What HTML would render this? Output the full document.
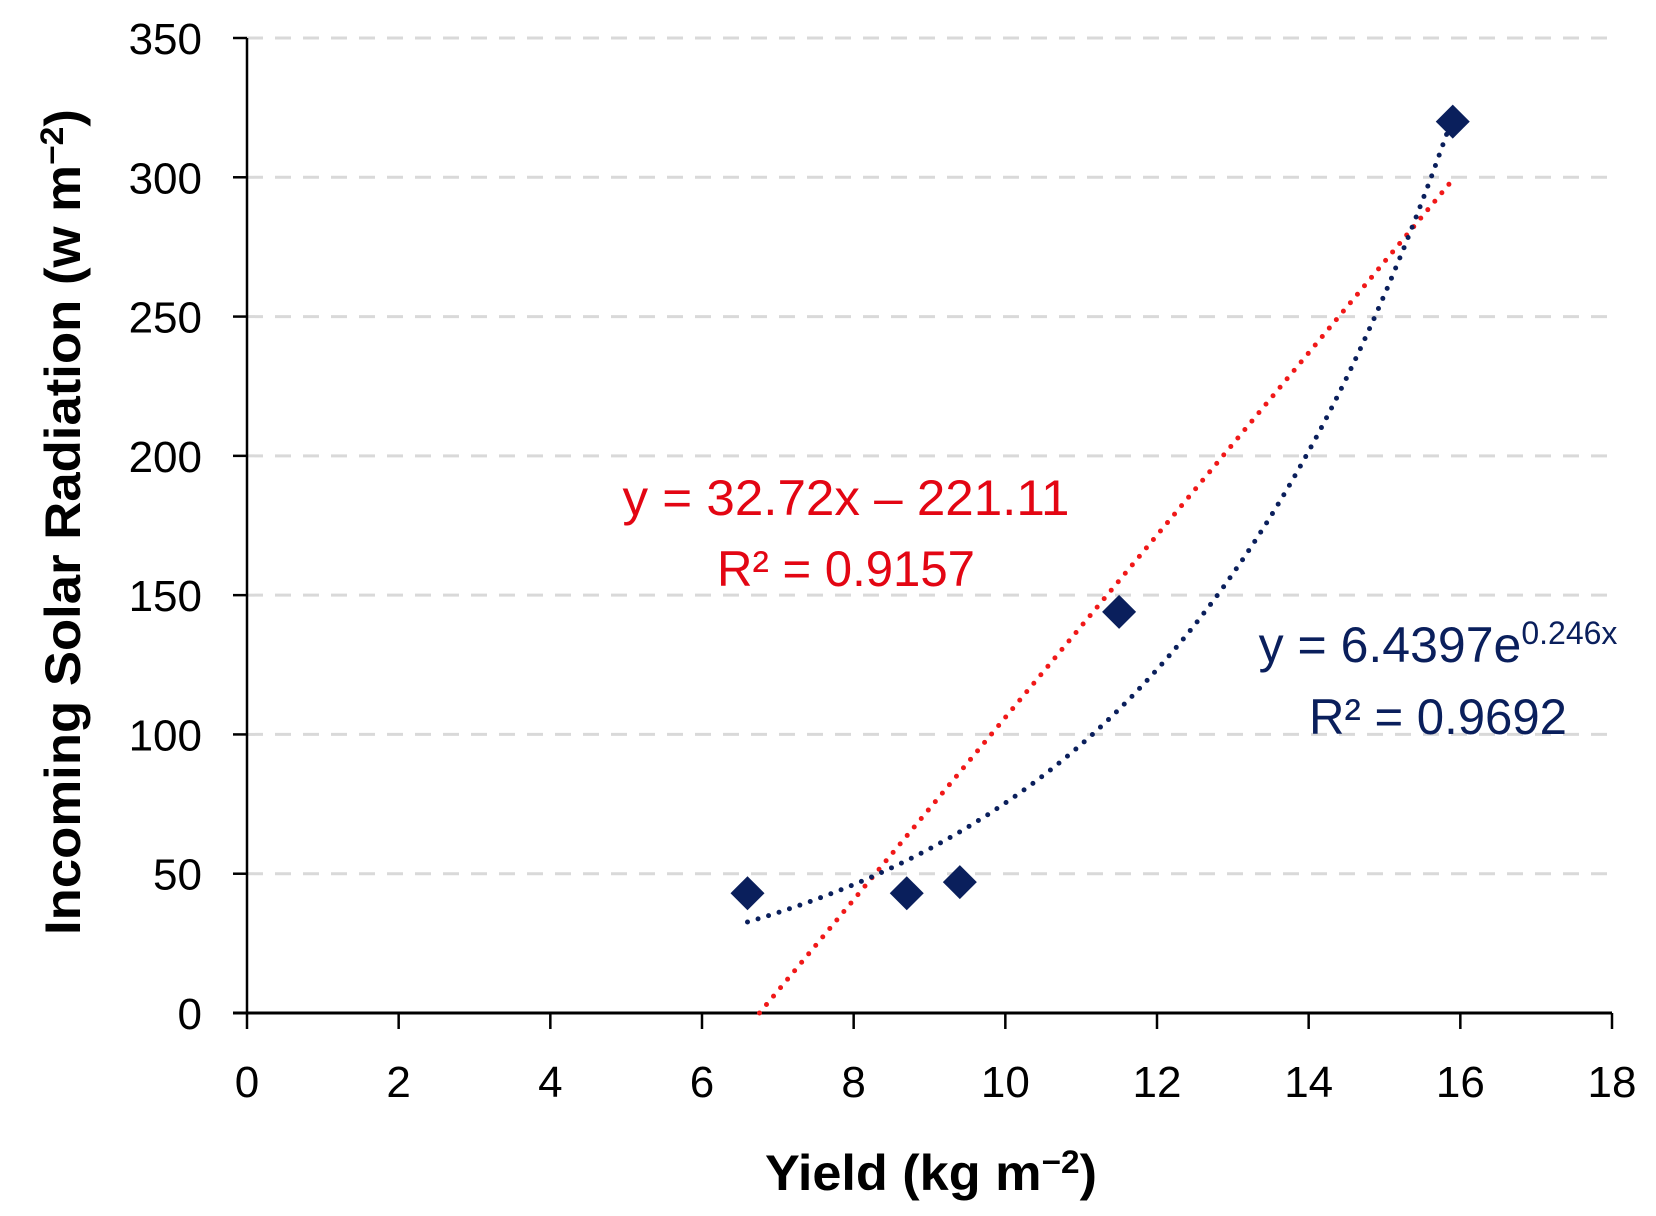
<!DOCTYPE html>
<html><head><meta charset="utf-8"><style>
body{margin:0;background:#fff;}
svg text{font-family:"Liberation Sans",sans-serif;}
</style></head><body>
<svg id="chart" width="1656" height="1211" viewBox="0 0 1656 1211">
<g id="grid"></g>
<g id="axes"></g>
<g id="trends"></g>
<g id="points"></g>
<text transform="translate(80,522) rotate(-90)" text-anchor="middle" font-size="50" font-weight="bold" textLength="826" lengthAdjust="spacingAndGlyphs">Incoming Solar Radiation (w m<tspan dy="-17" font-size="32">−2</tspan><tspan dy="17">)</tspan></text>
<text x="931" y="1190" text-anchor="middle" font-size="50" font-weight="bold" textLength="332" lengthAdjust="spacingAndGlyphs">Yield (kg m<tspan dy="-17" font-size="32">−2</tspan><tspan dy="17">)</tspan></text>
<text x="846" y="515" text-anchor="middle" font-size="50" fill="#e30613" textLength="447" lengthAdjust="spacingAndGlyphs">y = 32.72x – 221.11</text>
<text x="846" y="586" text-anchor="middle" font-size="50" fill="#e30613" textLength="258" lengthAdjust="spacingAndGlyphs">R² = 0.9157</text>
<text x="1438" y="662" text-anchor="middle" font-size="50" fill="#0a1f5c">y = 6.4397e<tspan dy="-18" font-size="32">0.246x</tspan></text>
<text x="1438" y="734" text-anchor="middle" font-size="50" fill="#0a1f5c" textLength="258" lengthAdjust="spacingAndGlyphs">R² = 0.9692</text>
</svg>
<script>
const xVals=[6.6,8.7,9.4,11.5,15.9];
const yVals=[43,43,47,144,320];
const xTicks=[0,2,4,6,8,10,12,14,16,18];
const yTicks=[0,50,100,150,200,250,300,350];
const linSlope=32.72, linIntercept=-221.11;
const expA=6.4397, expB=0.246;
const L=247,R=1612,T=38,B=1013;
const sx=v=>L+(v-0)/18*(R-L);
const sy=v=>B-(v-0)/350*(B-T);
const NS='http://www.w3.org/2000/svg';
function mk(tag,attrs,parent){const e=document.createElementNS(NS,tag);for(const k in attrs)e.setAttribute(k,attrs[k]);parent.appendChild(e);return e;}
const grid=document.getElementById('grid'),axes=document.getElementById('axes'),trends=document.getElementById('trends'),pts=document.getElementById('points');
yTicks.forEach(t=>{
  if(t>0){const g=mk('line',{x1:L,x2:R,y1:sy(t),y2:sy(t),stroke:'#d9d9d9','stroke-width':3,'stroke-dasharray':'16 12'},grid);
  
  }
  const tk=mk('line',{x1:L-14,x2:L,y1:sy(t),y2:sy(t),stroke:'#000','stroke-width':2.5},axes);
  
  
  const lb=mk('text',{x:L-45,y:sy(t)+16,'text-anchor':'end','font-size':44},axes);lb.textContent=t;
  
  
});
xTicks.forEach(t=>{
  const tk=mk('line',{x1:sx(t),x2:sx(t),y1:B,y2:B+16,stroke:'#000','stroke-width':2.5},axes);
  
  
  const lb=mk('text',{x:sx(t),y:B+84,'text-anchor':'middle','font-size':44},axes);lb.textContent=t;
  
  
});
const ya=mk('line',{x1:L,x2:L,y1:T,y2:B,stroke:'#000','stroke-width':2.5},axes);


const xa=mk('line',{x1:L-14,x2:R,y1:B,y2:B,stroke:'#000','stroke-width':3},axes);


const xmin=Math.min(...xVals),xmax=Math.max(...xVals);
const x0=Math.max(xmin,-linIntercept/linSlope);
const lin=mk('line',{x1:sx(x0),y1:sy(linSlope*x0+linIntercept),x2:sx(xmax),y2:sy(linSlope*xmax+linIntercept),stroke:'#f01818','stroke-width':5,'stroke-linecap':'round','stroke-dasharray':'0 11'},trends);


let d='';for(let i=0;i<=100;i++){const x=xmin+(xmax-xmin)*i/100;d+=(i?'L':'M')+sx(x).toFixed(1)+','+sy(expA*Math.exp(expB*x)).toFixed(1);}
const ex=mk('path',{d:d,fill:'none',stroke:'#0a1f5c','stroke-width':5,'stroke-linecap':'round','stroke-dasharray':'0 11'},trends);


xVals.forEach((x,i)=>{const cx=sx(x),cy=sy(yVals[i]),s=17;
  const p=mk('polygon',{points:`${cx},${cy-s} ${cx+s},${cy} ${cx},${cy+s} ${cx-s},${cy}`,fill:'#0a1f5c'},pts);
  
  
});
</script>
</body></html>
